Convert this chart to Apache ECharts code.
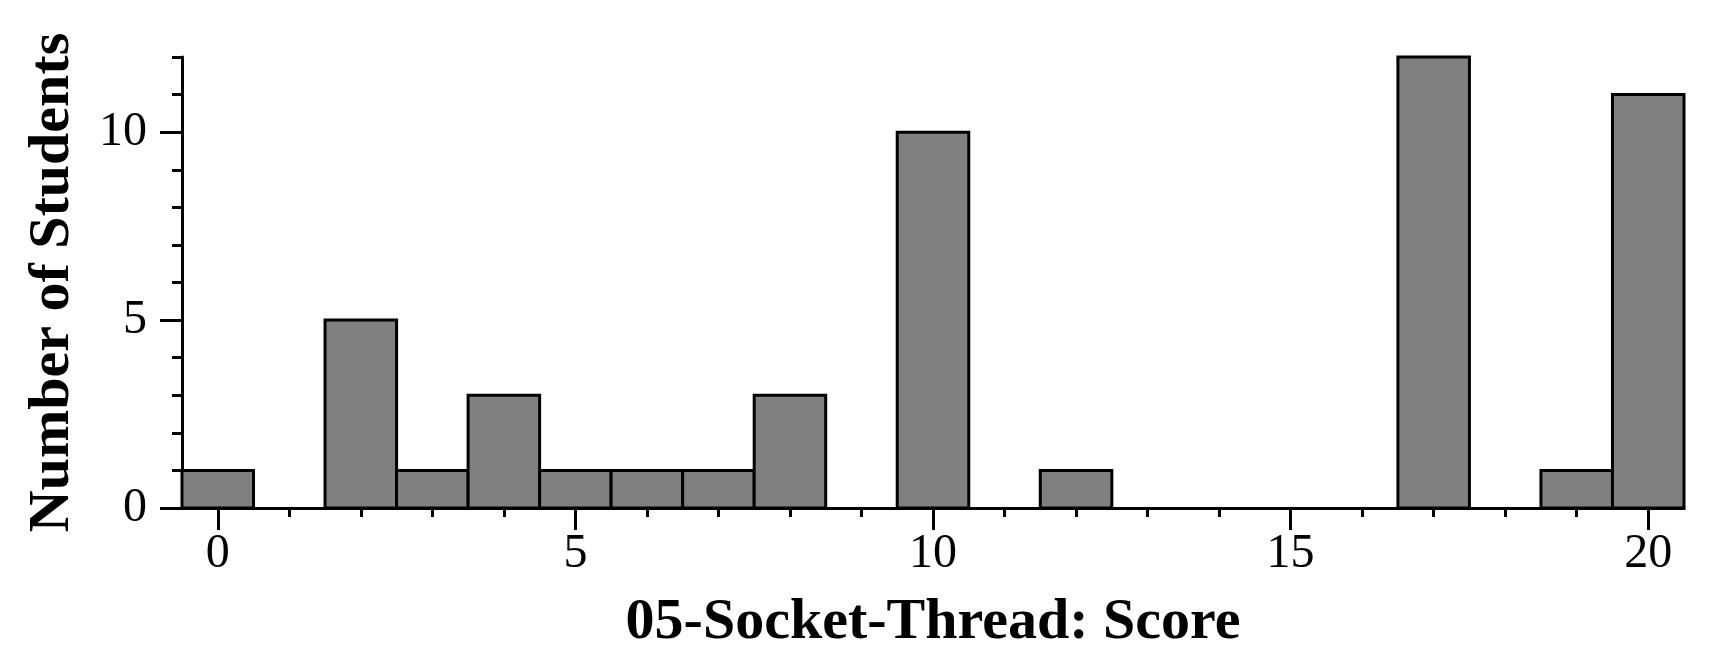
<!DOCTYPE html>
<html>
<head>
<meta charset="utf-8">
<script src="https://cdn.jsdelivr.net/npm/echarts@6/dist/echarts.min.js"></script>
<style>
html,body{margin:0;padding:0;background:#fff;}
#chart{width:1720px;height:670px;}
</style>
</head>
<body>
<div id="chart"></div>
<script>
const scores = [0, 1, 2, 3, 4, 5, 6, 7, 8, 9, 10, 11, 12, 13, 14, 15, 16, 17, 18, 19, 20];
const counts = [1, 0, 5, 1, 3, 1, 1, 1, 3, 0, 10, 0, 1, 0, 0, 0, 0, 12, 0, 1, 11];
const xMajorTicks = [0, 5, 10, 15, 20];
const yMajorTicks = [0, 5, 10];
const yMinorTicks = [0, 1, 2, 3, 4, 5, 6, 7, 8, 9, 10, 11, 12];
const xTitle = '05-Socket-Thread: Score';
const yTitle = 'Number of Students';

const FONT = '"Liberation Serif", "Times New Roman", serif';
const chart = echarts.init(document.getElementById('chart'), null, {renderer: 'canvas'});

function ls() { return {color: '#000', width: 3}; }
const xBase = {
  type: 'value', min: -0.5, max: 20.5, gridIndex: 0, position: 'bottom',
  splitLine: {show: false}
};
const yBase = {
  type: 'value', min: 0, max: 12, gridIndex: 0, position: 'left',
  splitLine: {show: false}
};

chart.setOption({
  animation: false,
  backgroundColor: '#fff',
  grid: {left: 182, right: 36, top: 57, bottom: 162, containLabel: false},
  xAxis: [
    Object.assign({}, xBase, {
      axisLine: {show: true, onZero: false, lineStyle: ls()},
      axisTick: {show: true, length: 9, lineStyle: ls(), customValues: scores},
      axisLabel: {show: false},
      name: xTitle, nameLocation: 'middle', nameGap: 86,
      nameTextStyle: {fontFamily: FONT, fontWeight: 'bold', fontSize: 58, color: '#000'}
    }),
    Object.assign({}, xBase, {
      axisLine: {show: false, onZero: false},
      axisTick: {show: true, length: 22, lineStyle: ls(), customValues: xMajorTicks},
      axisLabel: {show: true, customValues: xMajorTicks, margin: 22,
        fontFamily: FONT, fontSize: 48, color: '#000'}
    })
  ],
  yAxis: [
    Object.assign({}, yBase, {
      axisLine: {show: true, onZero: false, lineStyle: ls()},
      axisTick: {show: true, length: 10, lineStyle: ls(), customValues: yMinorTicks},
      axisLabel: {show: false},
      name: yTitle, nameLocation: 'middle', nameGap: 100, nameRotate: 90,
      nameTextStyle: {fontFamily: FONT, fontWeight: 'bold', fontSize: 58, color: '#000'}
    }),
    Object.assign({}, yBase, {
      axisLine: {show: false, onZero: false},
      axisTick: {show: true, length: 22, lineStyle: ls(), customValues: yMajorTicks},
      axisLabel: {show: true, customValues: yMajorTicks, margin: 35,
        fontFamily: FONT, fontSize: 48, color: '#000'}
    })
  ],
  series: [{
    type: 'custom',
    xAxisIndex: 0, yAxisIndex: 0,
    data: scores.map((s, i) => [s, counts[i]]),
    encode: {x: 0, y: 1},
    clip: false,
    z: 1,
    renderItem: function (params, api) {
      const x = api.value(0), y = api.value(1);
      if (!y) return null;
      const p0 = api.coord([x - 0.5, y]);
      const p1 = api.coord([x + 0.5, 0]);
      return {
        type: 'rect',
        shape: {x: p0[0], y: p0[1], width: p1[0] - p0[0], height: p1[1] - p0[1]},
        style: {fill: '#808080', stroke: '#000', lineWidth: 3}
      };
    }
  }]
});
</script>
</body>
</html>
